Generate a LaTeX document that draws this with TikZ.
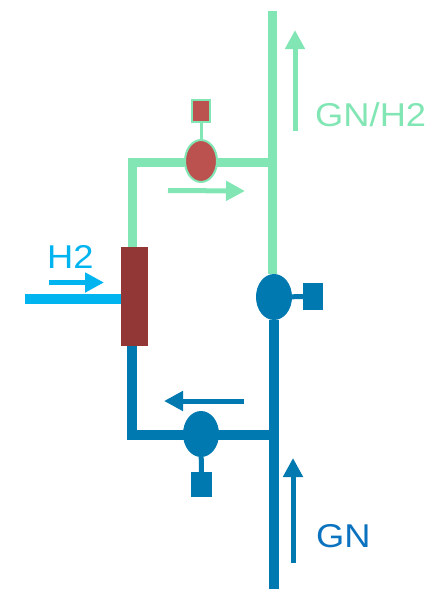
\documentclass[tikz,border=0pt]{standalone}
\usepackage{fontspec}
\setmainfont{Liberation Sans}
\usetikzlibrary{shapes.geometric,arrows.meta}
\definecolor{grn}{HTML}{82E6B4}
\definecolor{blu}{HTML}{0078B0}
\definecolor{blutext}{HTML}{0A72BE}
\definecolor{cyn}{HTML}{00B4F0}
\definecolor{rvalve}{HTML}{BC5250}
\definecolor{brn}{HTML}{923735}
\pgfdeclarelayer{pipes}
\pgfsetlayers{pipes,main}
\tikzset{
  pipe/.style={line width=9.5pt},
  stem/.style={line width=3pt},
  valve/.style={ellipse,draw=#1,fill=#1,line width=1pt,minimum width=35pt,minimum height=45pt,inner sep=0pt},
  redvalve/.style={ellipse,draw=grn,fill=rvalve,line width=2pt,minimum width=32pt,minimum height=42pt,inner sep=0pt},
  act/.style={rectangle,draw=#1,fill=#1,line width=1pt,inner sep=0pt},
  flow/.style={line width=5pt,-{Triangle[length=19pt,width=19pt]}},
  lab/.style={font=\fontsize{33pt}{33pt}\selectfont,inner sep=0pt,anchor=base west,xscale=1.1},
}
\begin{document}
\begin{tikzpicture}[x=1pt,y=-1pt]
\useasboundingbox (0,0) rectangle (428,589);
\coordinate (gtop) at (272.5,11);
\coordinate (gj) at (272.5,162.5);
\coordinate (gc) at (132.5,162.5);
\coordinate (bj) at (274,435);
\coordinate (bc) at (132,435);
\coordinate (bbot) at (274,589);
\coordinate (hin) at (25,299);
\coordinate (ga1) at (168,190.5); \coordinate (ga2) at (245,191);
\coordinate (ha1) at (49,282.5); \coordinate (ha2) at (104,282.5);
\coordinate (ba1) at (244,401); \coordinate (ba2) at (164,401);
\coordinate (ua1) at (293,563); \coordinate (ua2) at (293,458);
\coordinate (va1) at (295,131); \coordinate (va2) at (295,30);
\node[rectangle,fill=brn,minimum width=27pt,minimum height=99pt,inner sep=0pt] (hx) at (134.5,296.5) {};
\node[redvalve] (gv) at (201,161) {};
\node[act=grn,fill=rvalve,line width=2pt,minimum width=18pt,minimum height=22pt] (gs) at (201,110.5) {};
\node[valve=blu] (uv) at (274,297) {};
\node[act=blu,minimum width=19pt,minimum height=26pt] (us) at (313,296.5) {};
\node[valve=blu] (lv) at (201,434) {};
\node[act=blu,minimum width=20pt,minimum height=24pt] (ls) at (201.5,484.5) {};
\begin{pgfonlayer}{pipes}
\draw[pipe,grn] (gtop) -- (uv.north -| gtop);
\draw[pipe,grn] (gv.center |- gj) -- (gj);
\draw[pipe,grn] (gv.center |- gc) -- (gc) -- (hx.north -| gc);
\draw[stem,grn] (gs) -- (gv);
\draw[pipe,blu] (uv.south) -- (bbot);
\draw[pipe,blu] (lv.center |- bj) -- (bj);
\draw[pipe,blu] (lv.center |- bc) -- (bc) -- (hx.south -| bc);
\draw[stem,blu,line width=5pt] (uv) -- (us);
\draw[stem,blu,line width=5pt] (lv) -- (ls);
\draw[line width=10pt,cyn] (hin) -- (hx.west |- hin);
\end{pgfonlayer}
\draw[flow,grn] (ga1) -- (ga2);
\draw[flow,cyn] (ha1) -- (ha2);
\draw[flow,blu] (ba1) -- (ba2);
\draw[flow,blu] (ua1) -- (ua2);
\draw[flow,grn] (va1) -- (va2);
\node[lab,text=grn] (tgh) at (315,126) {GN/H2};
\node[lab,text=cyn] (th) at (47,268) {H2};
\node[lab,text=blutext] (tg) at (316,547) {GN};
\end{tikzpicture}
\end{document}
